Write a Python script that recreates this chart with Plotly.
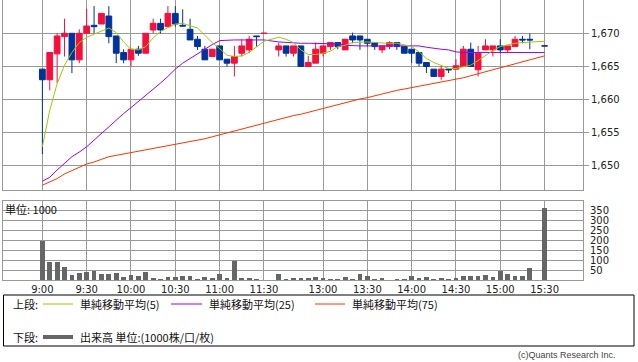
import plotly.graph_objects as go

# ---------------- data ----------------
times = ["9:00","9:05","9:10","9:15","9:20","9:25","9:30","9:35","9:40","9:45","9:50","9:55",
         "10:00","10:05","10:10","10:15","10:20","10:25","10:30","10:35","10:40","10:45","10:50","10:55",
         "11:00","11:05","11:10","11:15","11:20","11:25","11:30",
         "12:30","12:35","12:40","12:45","12:50","12:55",
         "13:00","13:05","13:10","13:15","13:20","13:25","13:30","13:35","13:40","13:45","13:50","13:55",
         "14:00","14:05","14:10","14:15","14:20","14:25","14:30","14:35","14:40","14:45","14:50","14:55",
         "15:00","15:05","15:10","15:15","15:20","15:30"]

opens = [1664.6,1663.0,1666.9,1669.5,1670.0,1666.0,1670.0,1671.2,1671.4,1672.6,1669.6,1667.1,
         1666.0,1667.6,1667.0,1670.5,1671.5,1671.0,1673.0,1671.2,1670.6,1669.1,1667.6,1666.5,
         1668.1,1666.1,1665.5,1667.0,1667.5,1669.6,1670.0,
         1667.5,1668.1,1667.0,1668.1,1665.0,1665.5,
         1667.0,1668.0,1668.6,1667.5,1669.6,1669.6,1669.1,1668.6,1667.5,1668.0,1668.6,1668.0,
         1667.6,1667.1,1665.6,1664.6,1663.5,1664.6,1664.6,1665.0,1667.6,1664.5,1667.5,1667.5,
         1668.1,1667.5,1668.0,1669.1,1669.1,1668.1]
highs = [1664.6,1667.1,1670.0,1672.2,1670.0,1670.6,1673.7,1674.1,1673.0,1674.1,1669.6,1667.6,
         1667.6,1668.1,1670.0,1672.2,1672.2,1674.1,1674.1,1673.6,1672.2,1669.6,1668.1,1667.6,
         1668.1,1666.1,1668.1,1669.1,1669.6,1669.6,1670.0,
         1668.6,1668.1,1668.1,1668.1,1666.6,1668.6,
         1668.1,1668.6,1668.6,1669.1,1670.1,1669.6,1669.1,1668.6,1668.1,1668.8,1668.6,1668.0,
         1667.6,1667.1,1665.6,1664.6,1665.1,1664.6,1666.1,1668.1,1668.6,1668.1,1669.1,1668.1,
         1669.1,1668.1,1669.6,1669.6,1670.0,1668.1]
lows = [1651.8,1661.4,1662.5,1666.5,1664.0,1665.5,1670.0,1670.0,1671.4,1668.5,1665.5,1665.5,
        1665.0,1666.6,1667.0,1670.0,1670.0,1671.0,1671.0,1671.0,1669.0,1667.5,1666.0,1666.5,
        1666.0,1665.0,1663.5,1666.5,1667.0,1668.0,1670.0,
        1666.5,1666.5,1666.5,1665.0,1665.0,1665.5,
        1666.5,1667.5,1667.6,1667.5,1668.5,1667.5,1668.0,1667.5,1667.0,1667.6,1667.5,1667.0,
        1665.5,1665.0,1664.0,1663.5,1663.0,1664.0,1664.6,1665.0,1665.0,1663.5,1667.5,1666.5,
        1667.0,1667.0,1668.0,1668.5,1667.6,1668.1]
closes = [1663.0,1667.1,1669.6,1670.0,1666.0,1670.0,1671.1,1671.0,1673.0,1669.5,1667.0,1666.0,
          1667.6,1667.0,1670.0,1671.5,1670.5,1673.0,1671.4,1671.1,1669.0,1668.0,1666.0,1667.6,
          1666.0,1665.5,1666.5,1668.1,1669.1,1669.5,1670.0,
          1668.1,1667.0,1668.1,1665.0,1665.6,1667.6,
          1668.1,1668.6,1668.0,1669.1,1669.0,1669.0,1668.5,1668.0,1668.1,1668.6,1668.0,1667.0,
          1667.0,1665.5,1665.0,1663.5,1664.6,1664.5,1665.1,1667.6,1665.0,1667.0,1668.1,1668.1,
          1667.5,1668.1,1669.1,1669.0,1669.0,1668.1]

ma5 = [1652.9,1658.4,1662.4,1665.2,1667.1,1668.6,1669.4,1669.9,1670.3,1670.8,1670.1,1668.7,
       1667.6,1667.5,1668.0,1669.3,1670.3,1670.8,1671.4,1671.5,1671.1,1670.8,1669.7,1668.6,
       1667.7,1666.7,1666.5,1666.6,1667.1,1668.0,1668.8,
       1669.4,1669.1,1668.6,1667.5,1666.8,1666.8,
       1667.0,1667.3,1668.0,1668.2,1668.6,1668.7,1668.7,1668.6,1668.5,1668.5,1668.5,1668.3,
       1668.0,1667.2,1666.2,1665.6,1665.1,1664.7,1664.7,1665.0,1665.2,1665.9,1666.7,1667.4,
       1668.0,1668.3,1668.5,1668.6,1668.7,1668.8]
ma25 = [1647.7,1648.3,1649.4,1650.4,1651.4,1652.1,1652.9,1653.9,1654.9,1656.0,1656.9,1657.9,
        1658.8,1659.7,1660.7,1661.5,1662.5,1663.5,1664.6,1665.5,1666.2,1667.0,1667.7,1668.3,
        1668.9,1669.0,1669.0,1669.0,1669.0,1669.0,1669.0,
        1668.7,1668.6,1668.5,1668.5,1668.5,1668.5,
        1668.5,1668.5,1668.4,1668.2,1668.1,1668.1,1668.1,1668.1,1668.1,1668.1,1668.1,1668.1,
        1668.1,1668.1,1667.9,1667.7,1667.6,1667.5,1667.2,1667.1,1667.1,1667.1,1667.1,1667.1,
        1667.1,1667.1,1667.1,1667.1,1667.1,1667.1]
ma75 = [1647.1,1647.6,1648.1,1648.8,1649.3,1649.8,1650.3,1650.6,1651.0,1651.4,1651.6,1651.8,
        1652.0,1652.2,1652.4,1652.6,1652.8,1653.1,1653.3,1653.5,1653.7,1653.9,1654.1,1654.4,
        1654.7,1655.0,1655.3,1655.6,1655.9,1656.2,1656.5,
        1657.0,1657.3,1657.6,1657.8,1658.1,1658.4,
        1658.7,1659.0,1659.3,1659.5,1659.8,1660.1,1660.3,1660.6,1660.9,1661.1,1661.4,1661.6,
        1661.8,1662.0,1662.2,1662.4,1662.6,1662.8,1663.0,1663.3,1663.6,1663.9,1664.2,1664.5,
        1664.8,1665.1,1665.4,1665.7,1666.0,1666.6]
volume = [197,92,92,67,25,35,42,45,30,30,35,17,
          25,20,40,10,5,15,15,20,20,7,15,10,
          30,10,95,10,10,5,2,
          30,5,10,10,10,15,
          10,5,5,15,5,30,20,5,10,2,5,5,
          20,10,15,5,10,5,10,20,20,20,25,15,
          45,30,20,20,60,365]

tick_labels = ["9:00","9:30","10:00","10:30","11:00","11:30",
               "13:00","13:30","14:00","14:30","15:00","15:30"]
price_ticks = [1650, 1655, 1660, 1665, 1670]
volume_ticks = [50, 100, 150, 200, 250, 300, 350]


# ---------------- time -> axis position (5-minute slots, lunch compressed) ----------------
def slot(t):
    h, m = map(int, t.split(":"))
    mins = h * 60 + m
    if mins <= 11 * 60 + 30:
        return (mins - 9 * 60) / 5
    return 32 + (mins - (12 * 60 + 30)) / 5


xs = [slot(t) for t in times]
tickpos = [slot(t) for t in tick_labels]

W, H = 638, 362
L, R = 3, 55
PW = W - L - R


def fx(px):
    return (px - L) / PW


def fy(py):
    return 1 - py / H


GRID = "#999999"
RED = "#f5103c"
BLUE = "#003399"
FONT = "DejaVu Sans"
JFONT = "Noto Sans CJK JP"

fig = go.Figure()

fig.add_trace(go.Candlestick(
    x=xs, open=opens, high=highs, low=lows, close=closes,
    increasing=dict(line=dict(color=RED, width=1), fillcolor=RED),
    decreasing=dict(line=dict(color=BLUE, width=1), fillcolor=BLUE),
    whiskerwidth=0, showlegend=False, hoverinfo="skip",
    xaxis="x", yaxis="y"))

for vals, col in [(ma75, "#ff3300"), (ma25, "#9900ff"), (ma5, "#99cc00")]:
    fig.add_trace(go.Scatter(x=xs, y=vals, mode="lines",
                             line=dict(color=col, width=1),
                             showlegend=False, hoverinfo="skip",
                             xaxis="x", yaxis="y"))

fig.add_trace(go.Bar(x=xs, y=volume, width=0.64, marker=dict(color="#666666", line=dict(width=0)),
                     showlegend=False, hoverinfo="skip", xaxis="x2", yaxis="y2"))

xr = [-5.33, 73.2]
common_x = dict(range=xr, tickmode="array", tickvals=tickpos, showgrid=True,
                gridcolor=GRID, gridwidth=1, zeroline=False, showline=True,
                linecolor=GRID, linewidth=1, mirror=True, ticks="", fixedrange=True)

fig.update_layout(
    width=W, height=H,
    margin=dict(l=L, r=R, t=0, b=0, pad=0),
    paper_bgcolor="white", plot_bgcolor="white",
    boxgap=0.22, boxgroupgap=0,
    bargap=0,
    xaxis=dict(common_x, domain=[0, 1], anchor="y", showticklabels=False,
               rangeslider=dict(visible=False)),
    yaxis=dict(domain=[fy(190), fy(0)], range=[1646.38, 1675.02], side="right",
               tickmode="array", tickvals=price_ticks,
               ticktext=[f"{v:,}" for v in price_ticks],
               showgrid=True, gridcolor=GRID, gridwidth=1, zeroline=False,
               showline=True, linecolor=GRID, mirror=True,
               ticks="outside", ticklen=5, tickcolor=GRID,
               tickfont=dict(family=FONT, size=10, color="#222222"),
               anchor="x", automargin=False, fixedrange=True),
    xaxis2=dict(common_x, domain=[0, 1], anchor="y2", showticklabels=True,
                ticktext=tick_labels,
                tickfont=dict(family=FONT, size=10, color="#222222")),
    yaxis2=dict(domain=[fy(280), fy(201)], range=[0, 400], side="right",
                tickmode="array", tickvals=volume_ticks,
                showgrid=True, gridcolor=GRID, gridwidth=1, zeroline=False,
                showline=True, linecolor=GRID, mirror=True,
                ticks="outside", ticklen=4, tickcolor="white",
                tickfont=dict(family=FONT, size=10, color="#222222"),
                anchor="x2", automargin=False, fixedrange=True),
)

shapes = []
annotations = []

# unit label inside volume panel
annotations.append(dict(x=fx(3), y=fy(209), xref="paper", yref="paper", text="単位: 1000",
                        showarrow=False, xanchor="left", yanchor="middle",
                        font=dict(family=JFONT, size=11, color="#111111")))

# legend box
shapes.append(dict(type="rect", xref="paper", yref="paper",
                   x0=fx(3.5), x1=fx(634), y0=fy(346), y1=fy(295),
                   line=dict(color="#000000", width=1), fillcolor="rgba(0,0,0,0)"))

row1, row2 = 304, 337
annotations.append(dict(x=fx(11), y=fy(row1), xref="paper", yref="paper", text="上段:",
                        showarrow=False, xanchor="left", yanchor="middle",
                        font=dict(family=JFONT, size=11, color="#111111")))
annotations.append(dict(x=fx(11), y=fy(row2), xref="paper", yref="paper", text="下段:",
                        showarrow=False, xanchor="left", yanchor="middle",
                        font=dict(family=JFONT, size=11, color="#111111")))
legend_items = [("単純移動平均(5)", "#99cc00", 43, 73),
                ("単純移動平均(25)", "#9900ff", 171, 202),
                ("単純移動平均(75)", "#ff3300", 315, 345)]
for txt, col, a, b in legend_items:
    shapes.append(dict(type="line", xref="paper", yref="paper", x0=fx(a), x1=fx(b),
                       y0=fy(row1), y1=fy(row1), line=dict(color=col, width=1)))
    annotations.append(dict(x=fx(b + 5), y=fy(row1), xref="paper", yref="paper", text=txt,
                            showarrow=False, xanchor="left", yanchor="middle",
                            font=dict(family=JFONT, size=11, color="#111111")))
shapes.append(dict(type="line", xref="paper", yref="paper", x0=fx(43), x1=fx(73),
                   y0=fy(row2), y1=fy(row2), line=dict(color="#666666", width=4)))
annotations.append(dict(x=fx(78), y=fy(row2), xref="paper", yref="paper",
                        text="出来高 単位:(1000株/口/枚)",
                        showarrow=False, xanchor="left", yanchor="middle",
                        font=dict(family=JFONT, size=11, color="#111111")))

annotations.append(dict(x=fx(618), y=fy(355), xref="paper", yref="paper",
                        text="(c)Quants Research Inc.",
                        showarrow=False, xanchor="right", yanchor="middle",
                        font=dict(family="Liberation Sans", size=9, color="#444444")))

fig.update_layout(shapes=shapes, annotations=annotations)

# remove the page's default body margin so the figure sits at the window's top-left
fig.write_html("out.html", config={"displayModeBar": False, "staticPlot": True},
               post_script="document.body.style.margin='0';document.body.style.padding='0';")
